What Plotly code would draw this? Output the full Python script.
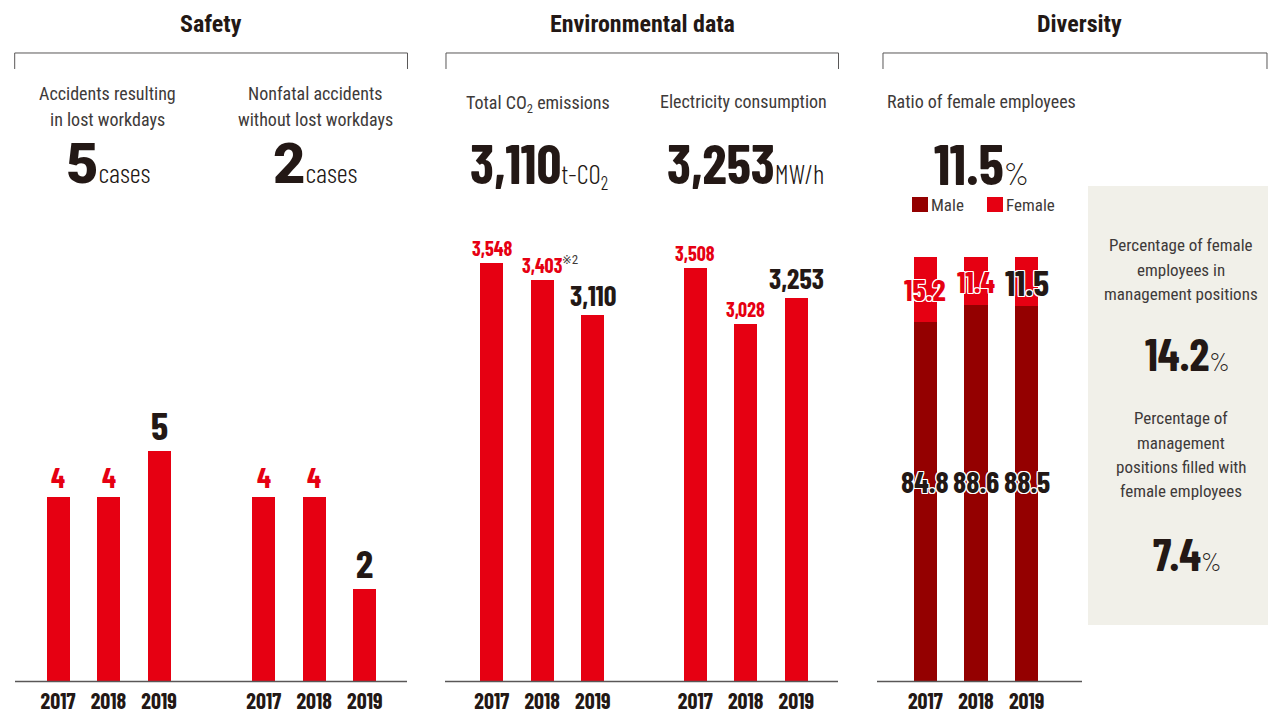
import plotly.graph_objects as go

# ---------------- data ----------------
years = ["2017", "2018", "2019"]
lost_workday_accidents = [4, 4, 5]
nonfatal_accidents = [4, 4, 2]
co2_emissions = [3548, 3403, 3110]
electricity = [3508, 3028, 3253]
female_ratio = [15.2, 11.4, 11.5]
male_ratio = [84.8, 88.6, 88.5]
female_mgmt_pct = 14.2
mgmt_filled_female_pct = 7.4

# ---------------- style ----------------
W, H = 1268, 712
RED = "#E60012"
DARKRED = "#940000"
INK = "#231815"
GRAY = "#3E3A39"
LINE = "#595757"
BOX = "#F1F0E9"
COND = "Roboto Condensed, Liberation Sans Narrow, DejaVu Sans Condensed, sans-serif"
NUM = "Barlow Condensed, Roboto Condensed, Liberation Sans Narrow, sans-serif"
BLACK = "Roboto, Liberation Sans, sans-serif"


def xf(px):
    return px / W


def yf(py):
    return 1 - py / H


fig = go.Figure()

panels = [
    # (axis id, values, domain px, y range max)
    ("", lost_workday_accidents, (32.75, 184.25), 424 / 46.0),
    ("2", nonfatal_accidents, (238.5, 390.0), 424 / 46.0),
    ("3", co2_emissions, (466.5, 618.0), 3600),
    ("4", electricity, (670.0, 821.5), 3600),
]

for ax, vals, dom, ymax in panels:
    fig.add_trace(go.Bar(x=years, y=vals, marker_color=RED, marker_line_width=0,
                         xaxis="x" + ax, yaxis="y" + ax, showlegend=False,
                         hoverinfo="x+y"))

fig.add_trace(go.Bar(x=years, y=male_ratio, name="Male", marker_color=DARKRED,
                     marker_line_width=0, xaxis="x5", yaxis="y5", showlegend=False))
fig.add_trace(go.Bar(x=years, y=female_ratio, name="Female", marker_color=RED,
                     marker_line_width=0, xaxis="x5", yaxis="y5", showlegend=False))

ydom = [yf(681.5), yf(257)]
axis_common = dict(showgrid=False, zeroline=False, showline=False, ticks="",
                   tickfont=dict(family=NUM, size=22, color=INK, weight="bold"),
                   fixedrange=True, type="category", ticklabelstandoff=4,
                   range=[-0.5, len(years) - 0.5], automargin=False)
yaxis_common = dict(showgrid=False, zeroline=False, showline=False, showticklabels=False,
                    ticks="", fixedrange=True, domain=ydom, automargin=False)

layout_axes = {}
all_panels = panels + [("5", None, (900.0, 1052.0), 100)]
for ax, _, dom, ymax in all_panels:
    layout_axes["xaxis" + ax] = dict(axis_common, domain=[xf(dom[0]), xf(dom[1])],
                                     anchor="y" + ax)
    layout_axes["yaxis" + ax] = dict(yaxis_common, range=[0, ymax], anchor="x" + ax)

fig.update_layout(**layout_axes)

ann = []


def text(t, px, py, size, color=INK, weight="normal", family=COND, xanchor="center"):
    ann.append(dict(text=t, x=xf(px), y=yf(py), xref="paper", yref="paper",
                    showarrow=False, xanchor=xanchor, yanchor="middle",
                    font=dict(family=family, size=size, color=color, weight=weight)))


# section titles
text("Safety", 211, 24, 24, weight="bold")
text("Environmental data", 642, 24, 24, weight="bold")
text("Diversity", 1079, 24, 24, weight="bold")

# subtitles
text("Accidents resulting", 107, 93, 18, GRAY)
text("in lost workdays", 107, 119, 18, GRAY)
text("Nonfatal accidents", 315, 93, 18, GRAY)
text("without lost workdays", 315, 119, 18, GRAY)
text("Total CO<sub>2</sub> emissions", 538, 104, 18, GRAY)
text("Electricity consumption", 743, 101, 18, GRAY)
text("Ratio of female employees", 981, 101, 18, GRAY)


def unit(u, size):
    return ("<span style='font-family:Barlow Condensed, Roboto Condensed, sans-serif;"
            "font-size:%dpx;font-weight:300'>%s</span>" % (size, u))


text("%d" % lost_workday_accidents[-1] + unit("cases", 27), 108, 164, 56, weight=900, family=BLACK)
text("%d" % nonfatal_accidents[-1] + unit("cases", 27), 315, 164, 56, weight=900, family=BLACK)
text("{:,}".format(co2_emissions[-1]) + unit("t-CO<sub>2</sub>", 27), 539, 162, 55, weight=700, family=NUM)
text("{:,}".format(electricity[-1]) + unit("MW/h", 27), 745, 162, 55, weight=700, family=NUM)
text("%.1f" % female_ratio[-1] + unit("%", 32), 981, 162, 57, weight=700, family=NUM)

# right box texts
for i, line in enumerate(["Percentage of female", "employees in", "management positions"]):
    text(line, 1181, 245 + 24.5 * i, 17, GRAY)
text("%.1f" % female_mgmt_pct + unit("%", 26), 1187, 353, 45, weight=700, family=NUM)
for i, line in enumerate(["Percentage of", "management", "positions filled with", "female employees"]):
    text(line, 1181, 418 + 24.5 * i, 17, GRAY)
text("%.1f" % mgmt_filled_female_pct + unit("%", 26), 1187, 553, 45, weight=700, family=NUM)

# value labels above bars
for ax, vals, dom, ymax in panels:
    small, big = (29, 39) if ymax < 100 else (20, 28)
    for i, v in enumerate(vals):
        last = i == len(vals) - 1
        ann.append(dict(text="{:,}".format(v), x=i, y=v, xref="x" + ax, yref="y" + ax,
                        showarrow=False, xanchor="center", yanchor="bottom", yshift=1,
                        font=dict(family=NUM, size=big if last else small,
                                  color=INK if last else RED, weight="bold")))
# footnote mark on 2018 CO2
ann.append(dict(text="※2", x=1, y=co2_emissions[1], xref="x3", yref="y3",
                showarrow=False, xanchor="left", yanchor="bottom", xshift=18, yshift=11,
                font=dict(family=COND, size=13, color=GRAY)))

OUTLINE = ("1px 1px 0 #fff, -1px -1px 0 #fff, 1px -1px 0 #fff, -1px 1px 0 #fff, "
           "0 1px 0 #fff, 0 -1px 0 #fff, 1px 0 0 #fff, -1px 0 0 #fff")
for i, (f, m) in enumerate(zip(female_ratio, male_ratio)):
    last = i == len(years) - 1
    ann.append(dict(text="%.1f" % f, x=i, y=m + f / 2, xref="x5", yref="y5",
                    showarrow=False, xanchor="center", yanchor="middle", yshift=0,
                    font=dict(family=NUM, size=36 if last else 30,
                              color=INK if last else RED, weight="bold", shadow=OUTLINE)))
    ann.append(dict(text="%.1f" % m, x=i, y=47, xref="x5", yref="y5",
                    showarrow=False, xanchor="center", yanchor="middle", yshift=1,
                    font=dict(family=NUM, size=30, color=INK, weight="bold", shadow=OUTLINE)))

shapes = []
# grey box
shapes.append(dict(type="rect", xref="paper", yref="paper", x0=xf(1088), x1=xf(1268),
                   y0=yf(625), y1=yf(186), fillcolor=BOX, line_width=0, layer="below"))
# brackets
for a, b in [(14.7, 407.5), (446, 838.5), (883, 1267)]:
    shapes.append(dict(type="path", xref="paper", yref="paper",
                       path="M %f,%f L %f,%f L %f,%f L %f,%f" % (
                           xf(a), yf(69), xf(a), yf(53), xf(b), yf(53), xf(b), yf(69)),
                       line=dict(color=LINE, width=1)))
# baselines
for a, b in [(15, 407), (445, 838), (877, 1082)]:
    shapes.append(dict(type="line", xref="paper", yref="paper", x0=xf(a), x1=xf(b),
                       y0=yf(681.5), y1=yf(681.5), line=dict(color=LINE, width=1.5)))

# legend (custom, compact like the reference)
for name, color, x0 in [("Male", DARKRED, 912), ("Female", RED, 987)]:
    shapes.append(dict(type="rect", xref="paper", yref="paper", x0=xf(x0), x1=xf(x0 + 16),
                       y0=yf(212), y1=yf(197), fillcolor=color, line_width=0))
    text(name, x0 + 17, 205, 17, GRAY, xanchor="left")

fig.update_layout(
    width=W, height=H, margin=dict(l=0, r=0, t=0, b=0, autoexpand=False),
    paper_bgcolor="white", plot_bgcolor="rgba(0,0,0,0)",
    barmode="stack", bargap=1 - 23 / 50.5,
    annotations=ann, shapes=shapes,
    showlegend=False,
    font=dict(family=COND, color=INK),
)

fig.write_html("out.html", config={"displayModeBar": False},
               post_script="document.body.style.margin='0';document.body.style.overflow='hidden';")
